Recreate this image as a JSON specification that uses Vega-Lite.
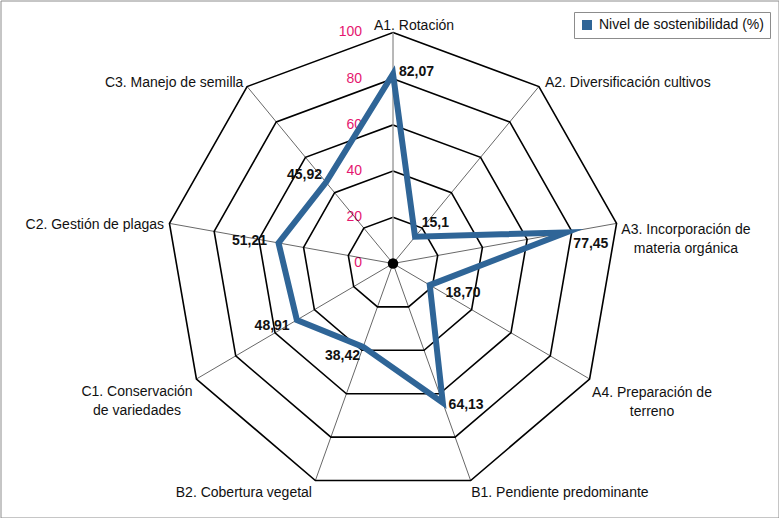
{
  "$schema": "https://vega.github.io/schema/vega-lite/v6.json",
  "width": 778,
  "height": 517,
  "padding": 0.5,
  "autosize": {"type": "none"},
  "background": "white",
  "config": {
    "view": {"stroke": "#8c8c8c", "strokeWidth": 1},
    "text": {"font": "Liberation Sans", "fontSize": 14, "lineHeight": 19, "lineBreak": "\n", "baseline": "middle", "color": "#111"}
  },
  "datasets": {
    "scores": [
      {"i": 0, "axis": "A1. Rotación", "value": 82.07, "label": "82,07"},
      {"i": 1, "axis": "A2. Diversificación cultivos", "value": 15.1, "label": "15,1"},
      {"i": 2, "axis": "A3. Incorporación de\nmateria orgánica", "value": 77.45, "label": "77,45"},
      {"i": 3, "axis": "A4. Preparación de\nterreno", "value": 18.70, "label": "18,70"},
      {"i": 4, "axis": "B1. Pendiente predominante", "value": 64.13, "label": "64,13"},
      {"i": 5, "axis": "B2. Cobertura vegetal", "value": 38.42, "label": "38,42"},
      {"i": 6, "axis": "C1. Conservación\nde variedades", "value": 48.91, "label": "48,91"},
      {"i": 7, "axis": "C2. Gestión de plagas", "value": 51.21, "label": "51,21"},
      {"i": 8, "axis": "C3. Manejo de semilla", "value": 45.92, "label": "45,92"}
    ],
    "rings": [
      {"level": 20, "i": [0, 1, 2, 3, 4, 5, 6, 7, 8]},
      {"level": 40, "i": [0, 1, 2, 3, 4, 5, 6, 7, 8]},
      {"level": 60, "i": [0, 1, 2, 3, 4, 5, 6, 7, 8]},
      {"level": 80, "i": [0, 1, 2, 3, 4, 5, 6, 7, 8]},
      {"level": 100, "i": [0, 1, 2, 3, 4, 5, 6, 7, 8]}
    ],
    "lvl": [
      {"level": 0, "txt": "0"}, {"level": 20, "txt": "20"}, {"level": 40, "txt": "40"},
      {"level": 60, "txt": "60"}, {"level": 80, "txt": "80"}, {"level": 100, "txt": "100"}
    ]
  },
  "encoding": {
    "x": {"field": "X", "type": "quantitative", "scale": {"domain": [-172.91, 169.82], "nice": false, "zero": false}, "axis": null},
    "y": {"field": "Y", "type": "quantitative", "scale": {"domain": [-109.96, 113.85], "nice": false, "zero": false}, "axis": null}
  },
  "layer": [
    {
      "data": {"name": "rings"},
      "transform": [
        {"flatten": ["i"]},
        {"calculate": "datum.i*2*PI/9", "as": "a"},
        {"calculate": "datum.level*sin(datum.a)", "as": "X"},
        {"calculate": "datum.level*cos(datum.a)", "as": "Y"}
      ],
      "mark": {"type": "line", "interpolate": "linear-closed", "stroke": "#000", "strokeWidth": 1.6},
      "encoding": {
        "detail": {"field": "level", "type": "nominal"},
        "order": {"field": "i", "type": "quantitative"}
      }
    },
    {
      "data": {"name": "lvl"},
      "transform": [
        {"calculate": "0", "as": "X"},
        {"calculate": "datum.level", "as": "Y"}
      ],
      "mark": {"type": "text", "align": "right", "dx": -31, "color": "#e5176f", "fontSize": 14},
      "encoding": {
        "text": {"field": "txt", "type": "nominal"}
      }
    },
    {
      "data": {"name": "scores"},
      "transform": [
        {"calculate": "datum.i*2*PI/9", "as": "a"},
        {"calculate": "100*sin(datum.a)", "as": "ox"},
        {"calculate": "100*cos(datum.a)", "as": "oy"},
        {"calculate": "datum.value*sin(datum.a)", "as": "X"},
        {"calculate": "datum.value*cos(datum.a)", "as": "Y"}
      ],
      "layer": [
        {
          "mark": {"type": "rule"},
          "encoding": {
            "x": {"datum": 0, "type": "quantitative"},
            "y": {"datum": 0, "type": "quantitative"},
            "x2": {"field": "ox"},
            "y2": {"field": "oy"},
            "stroke": {"condition": {"test": "datum.i == 0", "value": "#9a9a9a"}, "value": "#000"},
            "strokeWidth": {"condition": {"test": "datum.i == 0", "value": 1.4}, "value": 0.6}
          }
        },
        {
          "mark": {"type": "line", "interpolate": "linear-closed", "strokeWidth": 6, "strokeJoin": "miter", "strokeMiterLimit": 10},
          "encoding": {
            "order": {"field": "i", "type": "quantitative"},
            "color": {
              "datum": "Nivel de sostenibilidad (%)",
              "type": "nominal",
              "scale": {"range": ["#2f6597"]},
              "legend": {
                "title": null, "orient": "none", "legendX": 573.5, "legendY": 11.5,
                "symbolType": "square", "symbolSize": 100, "symbolStrokeWidth": 0,
                "symbolFillColor": "#2f6597",
                "labelFontSize": 14, "labelFont": "Liberation Sans", "labelColor": "#111", "labelLimit": 400,
                "padding": 6, "labelOffset": 5, "strokeColor": "#8c8c8c", "fillColor": "white",
                "encode": {"symbols": {"update": {"fill": {"value": "#2f6597"}, "strokeWidth": {"value": 0}}}}
              }
            }
          }
        },
        {
          "transform": [{"filter": "datum.i == 0"}],
          "mark": {"type": "point", "filled": true, "color": "#000", "size": 110, "opacity": 1},
          "encoding": {
            "x": {"datum": 0, "type": "quantitative"},
            "y": {"datum": 0, "type": "quantitative"}
          }
        },
        {"transform": [{"filter": "datum.i == 0"}], "mark": {"type": "text", "align": "center", "dx": 21, "dy": -6.5}, "encoding": {"x": {"field": "ox", "type": "quantitative"}, "y": {"field": "oy", "type": "quantitative"}, "text": {"field": "axis"}}},
        {"transform": [{"filter": "datum.i == 1"}], "mark": {"type": "text", "align": "left", "dx": 6, "dy": -3.5}, "encoding": {"x": {"field": "ox", "type": "quantitative"}, "y": {"field": "oy", "type": "quantitative"}, "text": {"field": "axis"}}},
        {"transform": [{"filter": "datum.i == 2"}], "mark": {"type": "text", "align": "center", "dx": 69.4, "dy": 7}, "encoding": {"x": {"field": "ox", "type": "quantitative"}, "y": {"field": "oy", "type": "quantitative"}, "text": {"field": "axis"}}},
        {"transform": [{"filter": "datum.i == 3"}], "mark": {"type": "text", "align": "center", "dx": 62.4, "dy": 14.5}, "encoding": {"x": {"field": "ox", "type": "quantitative"}, "y": {"field": "oy", "type": "quantitative"}, "text": {"field": "axis"}}},
        {"transform": [{"filter": "datum.i == 4"}], "mark": {"type": "text", "align": "left", "dx": 0.5, "dy": 12}, "encoding": {"x": {"field": "ox", "type": "quantitative"}, "y": {"field": "oy", "type": "quantitative"}, "text": {"field": "axis"}}},
        {"transform": [{"filter": "datum.i == 5"}], "mark": {"type": "text", "align": "right", "dx": -3.4, "dy": 12}, "encoding": {"x": {"field": "ox", "type": "quantitative"}, "y": {"field": "oy", "type": "quantitative"}, "text": {"field": "axis"}}},
        {"transform": [{"filter": "datum.i == 6"}], "mark": {"type": "text", "align": "center", "dx": -59.4, "dy": 13}, "encoding": {"x": {"field": "ox", "type": "quantitative"}, "y": {"field": "oy", "type": "quantitative"}, "text": {"field": "axis"}}},
        {"transform": [{"filter": "datum.i == 7"}], "mark": {"type": "text", "align": "right", "dx": -5.4, "dy": 1.6}, "encoding": {"x": {"field": "ox", "type": "quantitative"}, "y": {"field": "oy", "type": "quantitative"}, "text": {"field": "axis"}}},
        {"transform": [{"filter": "datum.i == 8"}], "mark": {"type": "text", "align": "right", "dx": -3.7, "dy": -3.5}, "encoding": {"x": {"field": "ox", "type": "quantitative"}, "y": {"field": "oy", "type": "quantitative"}, "text": {"field": "axis"}}},
        {"transform": [{"filter": "datum.i == 0"}], "mark": {"type": "text", "align": "left", "fontWeight": "bold", "fontSize": 14, "dx": 6, "dy": -1.6}, "encoding": {"text": {"field": "label"}}},
        {"transform": [{"filter": "datum.i == 1"}], "mark": {"type": "text", "align": "left", "fontWeight": "bold", "fontSize": 14, "dx": 6.7, "dy": -13.5}, "encoding": {"text": {"field": "label"}}},
        {"transform": [{"filter": "datum.i == 2"}], "mark": {"type": "text", "align": "left", "fontWeight": "bold", "fontSize": 14, "dx": 7.2, "dy": 12}, "encoding": {"text": {"field": "label"}}},
        {"transform": [{"filter": "datum.i == 3"}], "mark": {"type": "text", "align": "left", "fontWeight": "bold", "fontSize": 14, "dx": 15.8, "dy": 8}, "encoding": {"text": {"field": "label"}}},
        {"transform": [{"filter": "datum.i == 4"}], "mark": {"type": "text", "align": "left", "fontWeight": "bold", "fontSize": 14, "dx": 5.8, "dy": 2.3}, "encoding": {"text": {"field": "label"}}},
        {"transform": [{"filter": "datum.i == 5"}], "mark": {"type": "text", "align": "right", "fontWeight": "bold", "fontSize": 14, "dx": -3.2, "dy": 9}, "encoding": {"text": {"field": "label"}}},
        {"transform": [{"filter": "datum.i == 6"}], "mark": {"type": "text", "align": "right", "fontWeight": "bold", "fontSize": 14, "dx": -7.2, "dy": 6}, "encoding": {"text": {"field": "label"}}},
        {"transform": [{"filter": "datum.i == 7"}], "mark": {"type": "text", "align": "right", "fontWeight": "bold", "fontSize": 14, "dx": -11.5, "dy": -2}, "encoding": {"text": {"field": "label"}}},
        {"transform": [{"filter": "datum.i == 8"}], "mark": {"type": "text", "align": "right", "fontWeight": "bold", "fontSize": 14, "dx": -4, "dy": -7}, "encoding": {"text": {"field": "label"}}}
      ]
    }
  ]
}
